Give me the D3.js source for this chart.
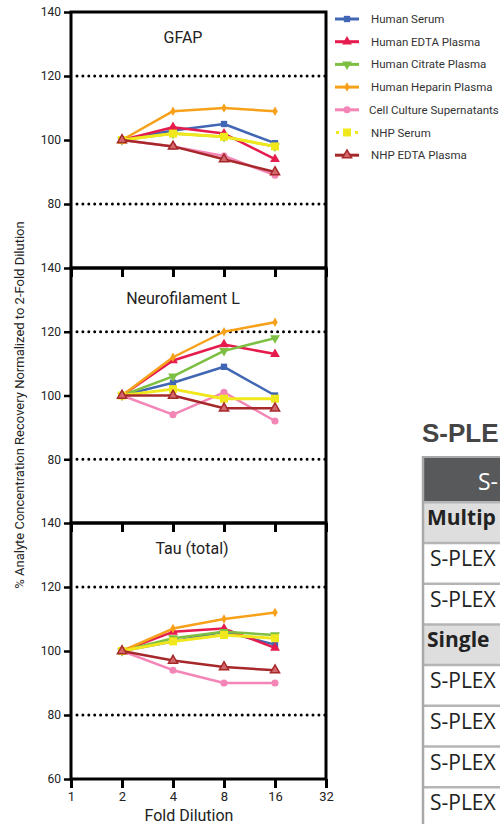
<!DOCTYPE html>
<html><head><meta charset="utf-8">
<script src="https://cdn.jsdelivr.net/npm/d3@7"></script>
<style>body{margin:0;background:#fff}svg{display:block}</style>
</head><body>
<svg id="c" width="500" height="824"></svg>
<script>
// ---------- data ----------
const dilutions = [2, 4, 8, 16];
const xTicks = [1, 2, 4, 8, 16, 32];
const yTicksTop = [80, 100, 120, 140];
const yTicksMid = [80, 100, 120, 140];
const yTicksBottom = [60, 80, 100, 120, 140];
const refLines = [80, 120];
const analytes = ["GFAP", "Neurofilament L", "Tau (total)"];
const seriesNames = ["Human Serum", "Human EDTA Plasma", "Human Citrate Plasma", "Human Heparin Plasma",
  "Cell Culture Supernatants", "NHP Serum", "NHP EDTA Plasma"];
const seriesColors = ["#4166b3", "#e61b4d", "#7dbf42", "#f7a11b", "#f386b6", "#f0e81c", "#a6282b"];
// values per series (same order as seriesNames), at dilutions 2,4,8,16
const gfapValues = [
  [100, 103, 105, 99],
  [100, 104, 102, 94],
  [100, 102, 101, 98],
  [100, 109, 110, 109],
  [100, 98, 95, 89],
  [100, 102, 101, 98],
  [100, 98, 94, 90]
];
const nflValues = [
  [100, 104, 109, 100],
  [100, 111, 116, 113],
  [100, 106, 114, 118],
  [100, 112, 120, 123],
  [100, 94, 101, 92],
  [100, 102, 99, 99],
  [100, 100, 96, 96]
];
const tauValues = [
  [100, 103, 106, 102],
  [100, 106, 107, 101],
  [100, 104, 106, 105],
  [100, 107, 110, 112],
  [100, 94, 90, 90],
  [100, 103, 105, 104],
  [100, 97, 95, 94]
];
// visible (cropped) part of the table at the right edge
const tableHeading = "S-PLE";
const tableHeader = "S-";
const tableRows = ["Multip", "S-PLEX", "S-PLEX", "Single", "S-PLEX", "S-PLEX", "S-PLEX", "S-PLEX"];
const tableRowBold = [true, false, false, true, false, false, false, false];

// ---------- drawing ----------
const svg = d3.select("#c");
const FONT = "Roboto, 'Open Sans', sans-serif";
const NARROW = "'Liberation Sans Narrow', 'Arial Narrow', Roboto, sans-serif";
const x = d3.scaleLog().base(2).domain([1, 32]).range([71, 326]);

const panels = [
  {top: 12, bottom: 268, values: gfapValues, ticks: yTicksTop, title: analytes[0], tx: 183, ty: 43, labels: false},
  {top: 268, bottom: 523, values: nflValues, ticks: yTicksMid, title: analytes[1], tx: 183, ty: 304, labels: false},
  {top: 523, bottom: 779, values: tauValues, ticks: yTicksBottom, title: analytes[2], tx: 192, ty: 554, labels: true}
];

const symbolTypes = [d3.symbolSquare, d3.symbolTriangle, d3.symbolTriangle, d3.symbolDiamond,
  d3.symbolCircle, d3.symbolSquare, d3.symbolTriangle];
const symbolSizes = [40, 42, 42, 26, 40, 64, 36];
const symbolRot = [0, 0, 180, 0, 0, 0, 0];
function drawMarker(g, i, cx, cy) {
  const p = g.append("path")
    .attr("d", d3.symbol().type(symbolTypes[i]).size(symbolSizes[i])())
    .attr("transform", `translate(${cx},${cy}) rotate(${symbolRot[i]})`)
    .attr("fill", i === 6 ? "#d2686b" : seriesColors[i]);
  if (i === 6) p.attr("stroke", seriesColors[i]).attr("stroke-width", 1.5);
}

panels.forEach((p) => {
  const y = d3.scaleLinear().domain([60, 140]).range([p.bottom, p.top]);
  const g = svg.append("g");

  refLines.forEach(v => {
    g.append("line").attr("x1", 77).attr("x2", 326)
      .attr("y1", y(v)).attr("y2", y(v))
      .attr("stroke", "#000").attr("stroke-width", 3)
      .attr("stroke-linecap", "round").attr("stroke-dasharray", "0 5.9");
  });

  p.values.forEach((vals, si) => {
    const pts = dilutions.map((d, k) => [x(d), y(vals[k])]);
    g.append("path").attr("d", d3.line()(pts))
      .attr("fill", "none").attr("stroke", seriesColors[si])
      .attr("stroke-width", si === 5 ? 3 : 2.5).attr("stroke-linejoin", "round");
    pts.forEach(pt => drawMarker(g, si, pt[0], pt[1]));
  });

  g.append("rect").attr("x", 71).attr("y", p.top).attr("width", 326 - 71).attr("height", p.bottom - p.top)
    .attr("fill", "none").attr("stroke", "#000").attr("stroke-width", 3);

  const ya = g.append("g").attr("transform", "translate(71,0)")
    .call(d3.axisLeft(y).tickValues(p.ticks).tickSize(7).tickPadding(3).tickFormat(d3.format("d")));
  ya.select(".domain").remove();
  ya.selectAll(".tick line").attr("stroke-width", 2.5);
  ya.selectAll(".tick text").attr("font-family", NARROW).attr("font-size", 12).attr("fill", "#222");

  const xa = g.append("g").attr("transform", `translate(0,${p.bottom})`)
    .call(d3.axisBottom(x).tickValues(xTicks).tickSize(9).tickPadding(4)
      .tickFormat(p.labels ? d3.format("d") : () => ""));
  xa.select(".domain").remove();
  xa.selectAll(".tick line").attr("stroke-width", 3);
  xa.selectAll(".tick text").attr("font-family", NARROW).attr("font-size", 13).attr("fill", "#222");

  g.append("text").attr("x", p.tx).attr("y", p.ty).attr("text-anchor", "middle")
    .attr("font-family", FONT).attr("font-size", 16).attr("fill", "#222").text(p.title);
});

svg.append("text").attr("x", 189).attr("y", 821).attr("text-anchor", "middle")
  .attr("font-family", FONT).attr("font-size", 16).attr("fill", "#222").text("Fold Dilution");
svg.append("text").attr("transform", "translate(24,405) rotate(-90)").attr("text-anchor", "middle")
  .attr("font-family", FONT).attr("font-size", 13).attr("fill", "#222")
  .text("% Analyte Concentration Recovery Normalized to 2-Fold Dilution");

const lg = svg.append("g");
seriesNames.forEach((name, i) => {
  const ly = 19 + i * 22.7;
  const ln = lg.append("line").attr("x1", 335).attr("x2", 359).attr("y1", ly).attr("y2", ly)
    .attr("stroke", seriesColors[i]).attr("stroke-width", 3);
  if (i === 5) ln.attr("x1", 336).attr("x2", 358).attr("stroke-dasharray", "3 6.5");
  drawMarker(lg, i, 347, ly);
  lg.append("text").attr("x", i === 4 ? 369 : 371).attr("y", ly + 4)
    .attr("font-family", FONT).attr("font-size", 11.5).attr("fill", "#333").text(name);
});

const tg = svg.append("g");
tg.append("text").attr("x", 422).attr("y", 442).attr("font-family", "'Liberation Sans', Arial, sans-serif")
  .attr("font-weight", "bold").attr("font-size", 26).attr("fill", "#454545").text(tableHeading);
tg.append("rect").attr("x", 422).attr("y", 457).attr("width", 100).attr("height", 45).attr("fill", "#58595b");
tg.append("text").attr("x", 478).attr("y", 490).attr("font-family", "'Open Sans', sans-serif")
  .attr("font-size", 23).attr("fill", "#fff").text(tableHeader);
const rowTop = 502.3, rowH = 40.7;
tableRows.forEach((t, i) => {
  const ry = rowTop + i * rowH;
  tg.append("rect").attr("x", 422).attr("y", ry).attr("width", 100).attr("height", rowH)
    .attr("fill", tableRowBold[i] ? "#dedede" : "#fff");
  tg.append("line").attr("x1", 422).attr("x2", 500).attr("y1", ry).attr("y2", ry)
    .attr("stroke", "#b5b5b5").attr("stroke-width", 2.5);
  tg.append("text").attr("x", tableRowBold[i] ? 427 : 430).attr("y", ry + 23)
    .attr("font-family", "'Open Sans', sans-serif").attr("font-weight", tableRowBold[i] ? "bold" : "normal")
    .attr("font-size", 21).attr("fill", "#222").text(t);
});
tg.append("line").attr("x1", 423).attr("x2", 423).attr("y1", 456).attr("y2", 824)
  .attr("stroke", "#a8a8a8").attr("stroke-width", 2.5);
tg.append("line").attr("x1", 422).attr("x2", 500).attr("y1", 457).attr("y2", 457)
  .attr("stroke", "#a8a8a8").attr("stroke-width", 2);
</script>
</body></html>
